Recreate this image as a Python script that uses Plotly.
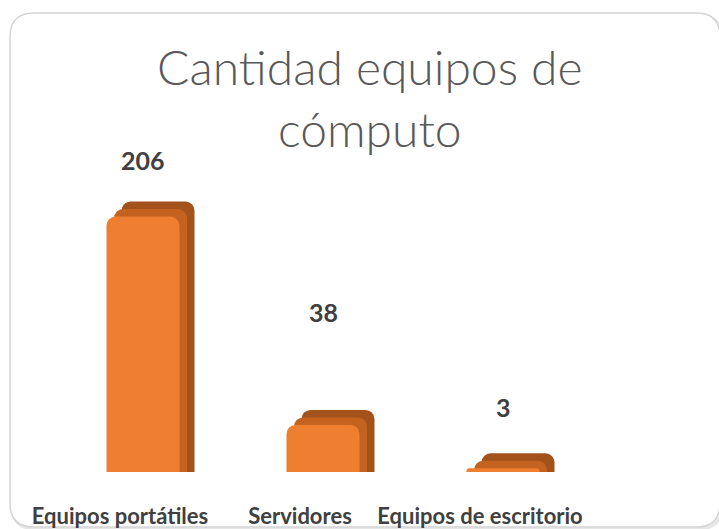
import plotly.graph_objects as go

# ---- data ----
categories = ["Equipos portátiles", "Servidores", "Equipos de escritorio"]
values = [206, 38, 3]
value_labels = ["206", "38", "3"]
title_text = "Cantidad equipos de<br>cómputo"

# ---- layout constants ----
W, H = 719, 529
ML, MR, MT, MB = 20, 20, 100, 57
PW, PH = W - ML - MR, H - MT - MB
PX_PER_UNIT = 1.24
YMAX = PH / PX_PER_UNIT
PX_PER_CAT = 180
X0_PX = 120
xmin = -(X0_PX - ML) / PX_PER_CAT
xmax = xmin + PW / PX_PER_CAT

front_w = 73 / PX_PER_CAT
front_off = -0.075
dx = 15 / PX_PER_CAT
dy = 15 / PX_PER_UNIT
label_shift = [57, 113, 61]

FRONT = "#EE7E30"
TOP = "#C4631F"
SIDE = "#A3521C"


def px2paper(px, py):
    return (px - ML) / PW, (H - MB - py) / PH


fig = go.Figure()
fig.add_trace(go.Bar(
    x=categories, y=[v + dy for v in values],
    offset=front_off + dx, width=front_w,
    marker=dict(color=SIDE, line=dict(width=0), cornerradius=9),
    hoverinfo="skip", showlegend=False))
fig.add_trace(go.Bar(
    x=categories, y=[v + dy * 0.5 for v in values],
    offset=front_off + dx * 0.5, width=front_w,
    marker=dict(color=TOP, line=dict(width=0), cornerradius=9),
    hoverinfo="skip", showlegend=False))
fig.add_trace(go.Bar(
    x=categories, y=values,
    offset=front_off, width=front_w,
    marker=dict(color=FRONT, line=dict(width=0), cornerradius=9),
    showlegend=False))

ann = []
for i, (v, t) in enumerate(zip(values, value_labels)):
    ann.append(dict(x=i + front_off + front_w / 2, y=v, xref="x", yref="y",
                    text=f"<b>{t}</b>", showarrow=False, yshift=label_shift[i],
                    yanchor="middle",
                    font=dict(family="Lato", size=25, color="#404040")))

tx, ty = px2paper(370, 36)
ann.append(dict(x=tx, y=ty, xref="paper", yref="paper", xanchor="center",
                yanchor="top", showarrow=False, text=title_text,
                font=dict(family="Lato", size=48, color="#595959", weight=300)))


def rounded_path(x0, y0, x1, y1, r):
    def P(x, y):
        a, b = px2paper(x, y)
        return f"{a:.5f},{b:.5f}"
    return (f"M {P(x0 + r, y0)} L {P(x1 - r, y0)} Q {P(x1, y0)} {P(x1, y0 + r)} "
            f"L {P(x1, y1 - r)} Q {P(x1, y1)} {P(x1 - r, y1)} "
            f"L {P(x0 + r, y1)} Q {P(x0, y1)} {P(x0, y1 - r)} "
            f"L {P(x0, y0 + r)} Q {P(x0, y0)} {P(x0 + r, y0)} Z")


shapes = [
    dict(type="path", xref="paper", yref="paper", layer="below",
         path=rounded_path(12, 15, 722, 529, 24),
         line=dict(color="#e6e6e6", width=3), fillcolor="rgba(0,0,0,0)"),
    dict(type="path", xref="paper", yref="paper", layer="below",
         path=rounded_path(10, 13, 720, 527, 24),
         line=dict(color="#d4d4d4", width=1.5), fillcolor="white"),
]

fig.update_layout(
    width=W, height=H,
    margin=dict(l=ML, r=MR, t=MT, b=MB, autoexpand=False),
    paper_bgcolor="white", plot_bgcolor="rgba(0,0,0,0)",
    barmode="overlay",
    xaxis=dict(range=[xmin, xmax], showgrid=False, zeroline=False, showline=False,
               ticks="", ticklabelstandoff=29, automargin=False,
               tickfont=dict(family="Lato", size=22, color="#404040", weight="bold")),
    yaxis=dict(range=[0, YMAX], visible=False, showgrid=False, zeroline=False,
               automargin=False),
    annotations=ann,
    shapes=shapes,
)

fig.write_html("out.html", config={"displayModeBar": False},
               post_script="document.body.style.margin='0';document.body.style.overflow='hidden';")
